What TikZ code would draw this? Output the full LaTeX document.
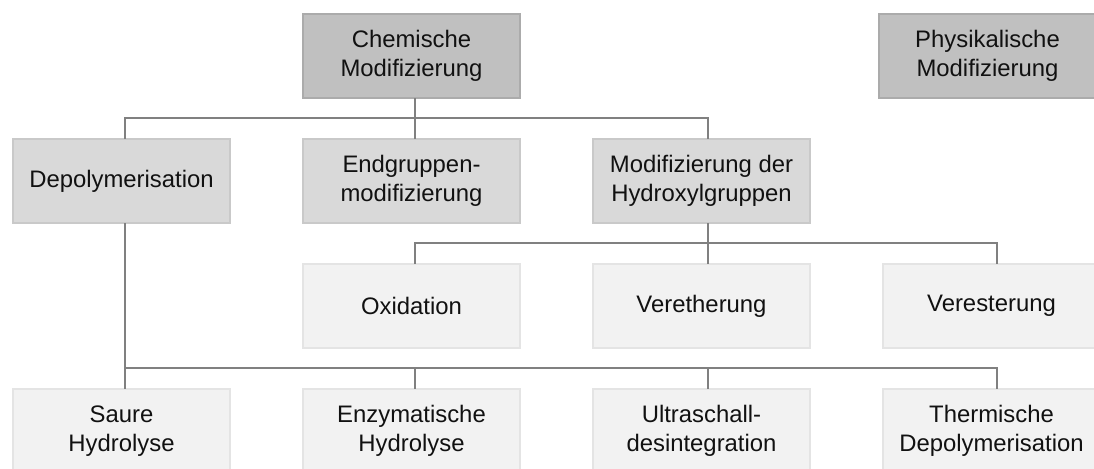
\documentclass[tikz,border=0pt]{standalone}
\usepackage{fontspec}
\setmainfont{Liberation Sans}
\usetikzlibrary{calc}
\definecolor{fillA}{HTML}{C0C0C0}
\definecolor{drawA}{HTML}{ABABAB}
\definecolor{fillB}{HTML}{D9D9D9}
\definecolor{drawB}{HTML}{C9C9C9}
\definecolor{fillC}{HTML}{F2F2F2}
\definecolor{drawC}{HTML}{E4E4E4}
\definecolor{linecol}{HTML}{808080}
\definecolor{txt}{HTML}{111111}
\tikzset{
  box/.style={rectangle, minimum width=217*0.75pt, minimum height=84*0.75pt,
    line width=2.2*0.75pt, align=center, text=txt, inner sep=0pt,
    font=\fontsize{17.9pt}{22.2pt}\selectfont},
  levA/.style={box, fill=fillA, draw=drawA},
  levB/.style={box, fill=fillB, draw=drawB},
  levC/.style={box, fill=fillC, draw=drawC},
  conn/.style={draw=linecol, line width=2*0.75pt, line cap=rect}
}
\begin{document}
\begin{tikzpicture}[x=0.75pt,y=-0.75pt]
\useasboundingbox (0,0) rectangle (1094,468);
% row 1
\node[levA] (chem) at (411.5,56) {Chemische\\Modifizierung};
\node[levA] (phys) at (987.5,56) {Physikalische\\Modifizierung};
% row 2
\node[levB] (depol) at (121.5,181) {Depolymerisation};
\node[levB] (endg) at (411.5,181) {Endgruppen-\\modifizierung};
\node[levB] (hydr) at (701.5,181) {Modifizierung der\\Hydroxylgruppen};
% row 3
\node[levC] (oxi) at (411.5,306) {Oxidation};
\node[levC] (veret) at (701.5,306) {Veretherung};
\node[levC] (veres) at (991.5,306) {Veresterung};
% row 4
\node[levC] (saure) at (121.5,431) {Saure\\Hydrolyse};
\node[levC] (enzym) at (411.5,431) {Enzymatische\\Hydrolyse};
\node[levC] (ultra) at (701.5,431) {Ultraschall-\\desintegration};
\node[levC] (therm) at (991.5,431) {Thermische\\Depolymerisation};
% anchor points (connector columns)
\coordinate (chemS)  at ($(chem.south)+(3.5,0)$);
\coordinate (depolN) at ($(depol.north)+(3.5,0)$);
\coordinate (depolS) at ($(depol.south)+(3.5,0)$);
\coordinate (endgN)  at ($(endg.north)+(3.5,0)$);
\coordinate (hydrN)  at ($(hydr.north)+(6.5,0)$);
\coordinate (hydrS)  at ($(hydr.south)+(6.5,0)$);
\coordinate (oxiN)   at ($(oxi.north)+(3.5,0)$);
\coordinate (veretN) at ($(veret.north)+(6.5,0)$);
\coordinate (veresN) at ($(veres.north)+(5.5,0)$);
\coordinate (saureN) at ($(saure.north)+(3.5,0)$);
\coordinate (enzymN) at ($(enzym.north)+(3.5,0)$);
\coordinate (ultraN) at ($(ultra.north)+(6.5,0)$);
\coordinate (thermN) at ($(therm.north)+(5.5,0)$);
\coordinate (b1) at (0,118);
\coordinate (b2) at (0,243);
\coordinate (b3) at (0,368);
% chem -> row 2
\draw[conn] (chemS) -- (chemS |- b1);
\draw[conn] (depolN) -- (depolN |- b1) -- (hydrN |- b1) -- (hydrN);
\draw[conn] (endgN) -- (endgN |- b1);
% hydr -> row 3
\draw[conn] (hydrS) -- (hydrS |- b2);
\draw[conn] (oxiN) -- (oxiN |- b2) -- (veresN |- b2) -- (veresN);
\draw[conn] (veretN) -- (veretN |- b2);
% depol -> row 4
\draw[conn] (depolS) -- (saureN);
\draw[conn] (saureN |- b3) -- (thermN |- b3) -- (thermN);
\draw[conn] (enzymN) -- (enzymN |- b3);
\draw[conn] (ultraN) -- (ultraN |- b3);
\end{tikzpicture}
\end{document}
